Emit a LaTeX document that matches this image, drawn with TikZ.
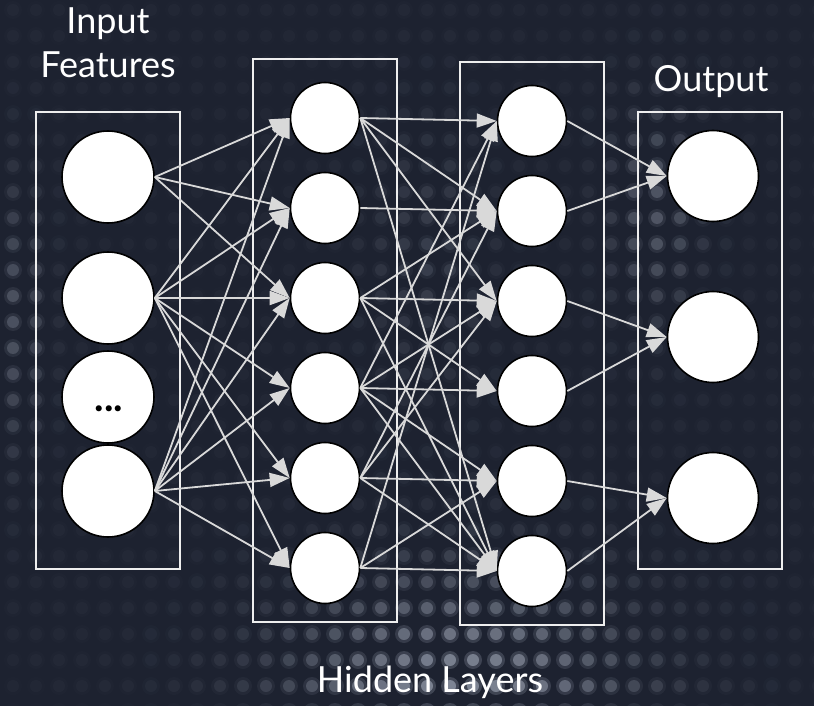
\documentclass[tikz,border=0pt]{standalone}
\usepackage{fontspec}
\setmainfont{Lato}
\usetikzlibrary{arrows.meta,shapes.geometric}
\definecolor{bg}{HTML}{1D2230}
\definecolor{dotc}{HTML}{B4BCCC}
\definecolor{wire}{HTML}{D9D9D9}
\definecolor{frame}{HTML}{EEEEEE}
\begin{document}
\begin{tikzpicture}[x=1pt,y=-1pt,
  unit/.style={circle,draw=black,line width=1.6pt,fill=white,inner sep=0pt,minimum size=92pt},
  hunit/.style={ellipse,draw=black,line width=1.6pt,fill=white,inner sep=0pt,minimum width=69pt,minimum height=71pt},
  layerbox/.style={draw=frame,line width=1.8pt},
  wirearrow/.style={draw=wire,line width=1.8pt,-{Triangle[length=20pt,width=14pt]}},
  caption/.style={text=white,font=\fontsize{36}{44}\selectfont,inner sep=0pt}]

% dark backdrop
\fill[bg] (0,0) rectangle (814,706);
\useasboundingbox (0,0) rectangle (814,706);

% soft dot matrix behind the network
\foreach \i in {0,...,35}{
  \foreach \j in {0,...,27}{
    \pgfmathsetmacro{\px}{13+\i*23}
    \pgfmathsetmacro{\py}{10+\j*26}
    \pgfmathsetmacro{\op}{0.03
      +0.50*exp(-max(0,((\px-460)/160)^2+((\py-690)/110)^2))
      +0.22*exp(-max(0,((\px-655)/45)^2+((\py-210)/110)^2))
      +0.20*exp(-max(0,((\px-15)/30)^2+((\py-320)/130)^2))
      +0.10*exp(-max(0,((\px-430)/60)^2+((\py-260)/130)^2))}
    \fill[dotc,opacity=\op*0.45] (\px,\py) circle (9);
    \fill[dotc,opacity=\op] (\px,\py) circle (6);
  }
}

% layer frames
\draw[layerbox] (36,112) rectangle (180,569);
\draw[layerbox] (253,59) rectangle (397,622);
\draw[layerbox] (460,62) rectangle (604,625);
\draw[layerbox] (638,112) rectangle (782,569);

% input layer
\node[unit] (in1) at (108,177) {};
\node[unit] (in2) at (108,298) {};
\node[unit] (in3) at (108,397) {};
\node[unit] (in4) at (108,491) {};
\node[font=\fontsize{40}{40}\selectfont\bfseries,inner sep=0pt,anchor=base] (dots) at (109,411) {...};

% hidden layers
\foreach \k/\y in {1/118,2/208,3/298,4/388,5/478,6/568}
  \node[hunit] (a\k) at (325,\y) {};
\foreach \k/\y in {1/121,2/211,3/301,4/391,5/481,6/571}
  \node[hunit] (b\k) at (532,\y) {};

% output layer
\node[unit,minimum size=91pt] (out1) at (713,176) {};
\node[unit,minimum size=91pt] (out2) at (713,337) {};
\node[unit,minimum size=91pt] (out3) at (713,498) {};

% input -> first hidden layer
\foreach \s/\t in {in1/a1,in1/a2,in1/a3,
                   in2/a1,in2/a2,in2/a3,in2/a4,in2/a5,in2/a6,
                   in4/a1,in4/a2,in4/a3,in4/a4,in4/a5,in4/a6}
  \draw[wirearrow] (\s.east) -- (\t.west);

% first hidden -> second hidden layer
\foreach \s/\t in {a1/b1,a1/b2,a1/b3,a1/b6,
                   a2/b2,
                   a3/b2,a3/b3,a3/b4,a3/b6,
                   a4/b1,a4/b3,a4/b4,a4/b5,a4/b6,
                   a5/b2,a5/b3,a5/b5,a5/b6,
                   a6/b1,a6/b5,a6/b6}
  \draw[wirearrow] (\s.east) -- (\t.west);

% second hidden -> output layer
\foreach \s/\t in {b1/out1,b2/out1,b3/out2,b4/out2,b5/out3,b6/out3}
  \draw[wirearrow] (\s.east) -- (\t.west);

% captions
\node[caption,align=center,anchor=north] (incap) at (108,8) {Input\\Features};
\node[caption,anchor=base] (outcap) at (711,92) {Output};
\node[caption,anchor=base] (hidcap) at (430,692) {Hidden Layers};
\end{tikzpicture}
\end{document}
